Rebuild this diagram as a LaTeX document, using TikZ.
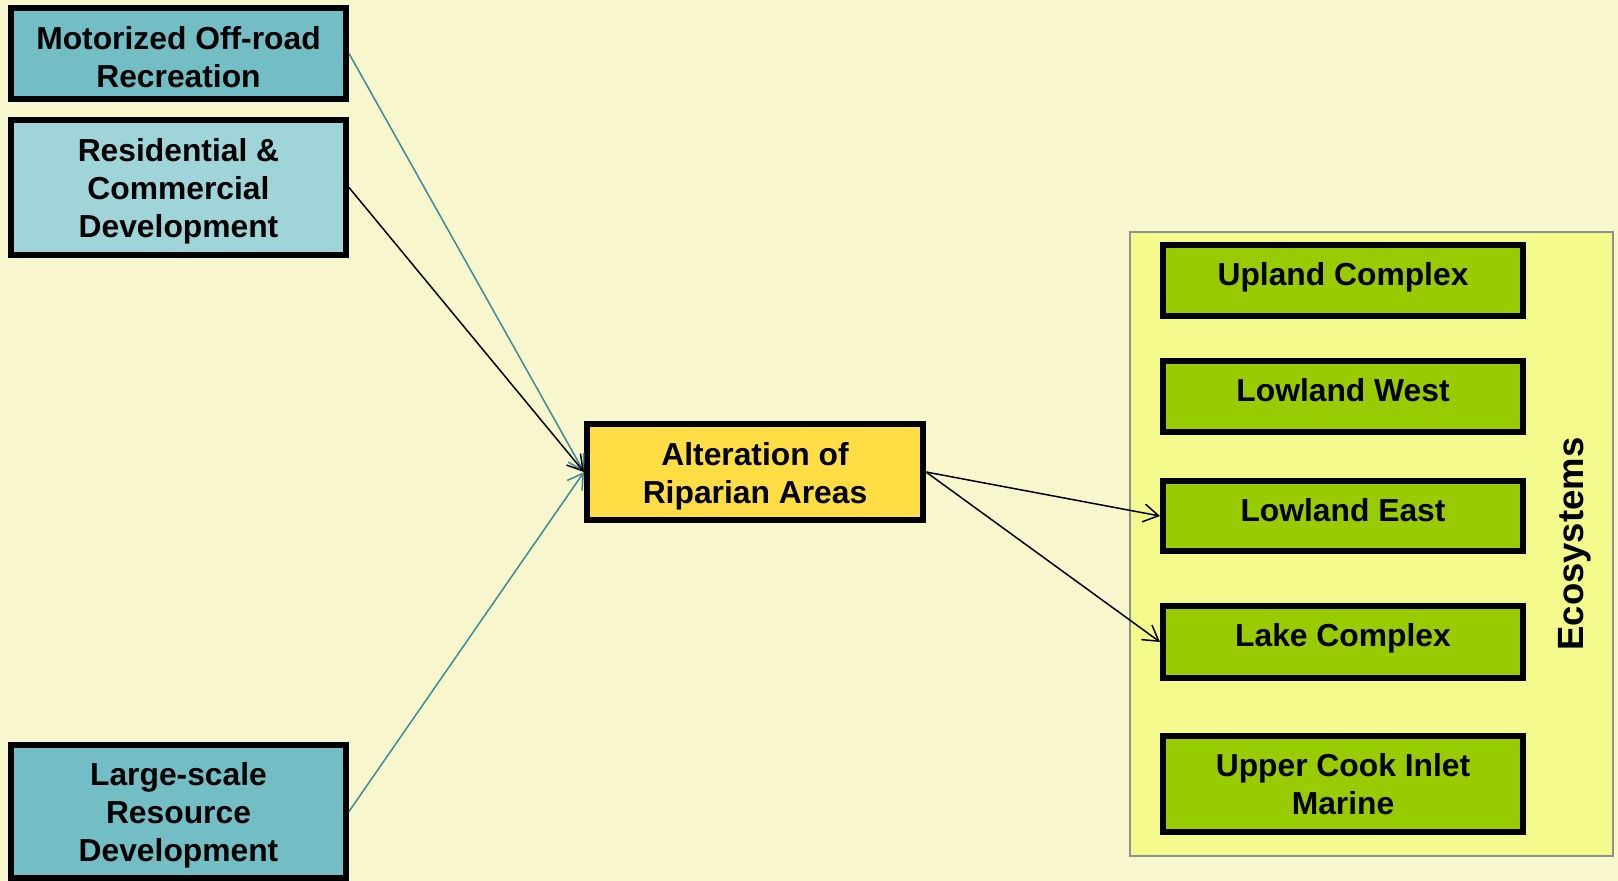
\documentclass[tikz,border=0pt]{standalone}
\usepackage{fontspec}
\setmainfont{Liberation Sans}
\usetikzlibrary{arrows.meta}
\definecolor{bgcol}{RGB}{248,246,204}
\definecolor{teal1}{RGB}{114,190,196}
\definecolor{teal2}{RGB}{159,212,217}
\definecolor{goldcol}{RGB}{255,221,68}
\definecolor{greencol}{RGB}{153,204,0}
\definecolor{ecofill}{RGB}{243,249,138}
\definecolor{ecoborder}{RGB}{144,144,144}
\definecolor{tealline}{RGB}{58,140,153}
\tikzset{
  boxbase/.style={draw=black, line width=6pt, rectangle, inner sep=0pt},
  txt/.style={align=center, inner sep=0pt, font=\fontsize{31.8}{38}\selectfont\bfseries},
  threat/.style={boxbase, fill=teal1, minimum width=335pt},
  threatlight/.style={boxbase, fill=teal2, minimum width=335pt},
  stressbox/.style={boxbase, fill=goldcol, minimum width=336pt, minimum height=96pt},
  ecobox/.style={boxbase, fill=greencol, minimum width=360pt},
  conn/.style={line width=1.5pt, -{Straight Barb[length=15pt,width=18pt,line width=1.5pt]}},
}
\begin{document}
\begin{tikzpicture}[x=1pt,y=-1pt]
\useasboundingbox[fill=bgcol] (0,0) rectangle (1618,881);
\node[draw=ecoborder, line width=1.5pt, fill=ecofill, minimum width=483pt, minimum height=624pt, inner sep=0pt] (eco) at (1371.5,544) {};
\node[rotate=90, font=\fontsize{36.5}{40}\selectfont\bfseries] (ecolabel) at (1575,544) {Ecosystems};

\node[threat, minimum height=91pt] (moto) at (178.5,53.5) {};
\node[txt] (mototx) at ([yshift=-4pt]moto.center) {Motorized Off-road\\Recreation};
\node[threatlight, minimum height=135pt] (resi) at (178.5,187.5) {};
\node[txt] (resitx) at ([yshift=-4pt]resi.center) {Residential \&\\Commercial\\Development};
\node[threat, minimum height=133pt] (large) at (178.5,811.5) {};
\node[txt] (largetx) at ([yshift=-3.5pt]large.center) {Large-scale\\Resource\\Development};

\node[stressbox] (alt) at (755,472) {};
\node[txt] (alttx) at ([yshift=-4pt]alt.center) {Alteration of\\Riparian Areas};

\node[ecobox, minimum height=71pt] (upland) at (1343,280.5) {};
\node[txt] (uplandtx) at ([yshift=3pt]upland.center) {Upland Complex};
\node[ecobox, minimum height=71pt] (lwest) at (1343,396.5) {};
\node[txt] (lwesttx) at ([yshift=6pt]lwest.center) {Lowland West};
\node[ecobox, minimum height=70pt] (least) at (1343,516) {};
\node[txt] (leasttx) at ([yshift=6pt]least.center) {Lowland East};
\node[ecobox, minimum height=72pt] (lake) at (1343,642) {};
\node[txt] (laketx) at ([yshift=4pt]lake.center) {Lake Complex};
\node[ecobox, minimum height=96pt] (ucook) at (1343,784) {};
\node[txt] (ucooktx) at (ucook.center) {Upper Cook Inlet\\Marine};

\draw[conn, tealline] (moto.east) -- (alt.west);
\draw[conn, black] (resi.east) -- (alt.west);
\draw[conn, tealline] (large.east) -- (alt.west);
\draw[conn, black] (alt.east) -- (least.west);
\draw[conn, black] (alt.east) -- (lake.west);
\end{tikzpicture}
\end{document}
